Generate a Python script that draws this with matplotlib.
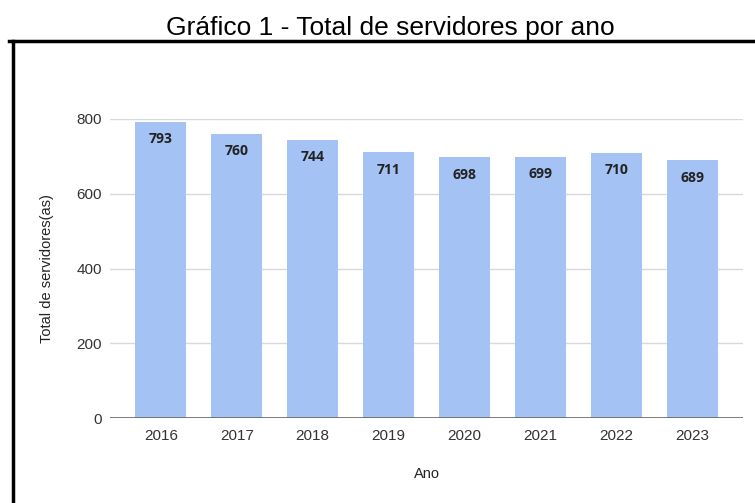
import matplotlib.pyplot as plt
from matplotlib.lines import Line2D

years = ["2016", "2017", "2018", "2019", "2020", "2021", "2022", "2023"]
servidores = [793, 760, 744, 711, 698, 699, 710, 689]
y_ticks = [0, 200, 400, 600, 800]

plt.rcParams["font.family"] = ["Liberation Sans", "DejaVu Sans"]

W, H = 755, 503
fig = plt.figure(figsize=(W / 100, H / 100), dpi=100)
ax = fig.add_axes([110 / W, 85 / H, 633 / W, 299 / H])

x = range(len(years))
ax.bar(x, servidores, width=0.67, color="#a4c2f4", zorder=2)
for xi, v in zip(x, servidores):
    ax.annotate(str(v), (xi, v), xytext=(0, -7.5), textcoords="offset points",
                ha="center", va="top", fontsize=10, fontweight="bold",
                color="#222222", family=["Open Sans", "DejaVu Sans"])

ax.set_xlim(-0.67, len(years) - 1 + 0.67)
ax.set_ylim(0, 800)
ax.set_yticks(y_ticks)
ax.set_xticks(list(x))
ax.set_xticklabels(years)
ax.grid(axis="y", color="#d9d9d9", lw=1, zorder=0)
ax.axhline(0, color="#666666", lw=1.2, zorder=3)
for s in ax.spines.values():
    s.set_visible(False)
ax.tick_params(length=0, labelsize=11, labelcolor="#333333")
ax.tick_params(axis="x", pad=8)
ax.tick_params(axis="y", pad=6)
ax.set_xlabel("Ano", fontsize=10.5, color="#222222", va="center")
ax.set_ylabel("Total de servidores(as)", fontsize=10.5, color="#222222", va="center")
ax.xaxis.set_label_coords(0.5, (418 - 474) / 299)
ax.yaxis.set_label_coords((47 - 110) / 633, 0.5)

fig.text(390 / W, 1 - 35 / H, "Gráfico 1 - Total de servidores por ano",
         ha="center", va="baseline", fontsize=19, color="#000000")

# moldura da figura (topo e lado esquerdo)
fig.add_artist(Line2D([9 / W, 1], [1 - 41 / H] * 2, color="black", lw=2.5,
                      transform=fig.transFigure))
fig.add_artist(Line2D([13 / W] * 2, [1 - 41 / H, 0], color="black", lw=2.5,
                      transform=fig.transFigure))

fig.savefig("out.png", dpi=100)
